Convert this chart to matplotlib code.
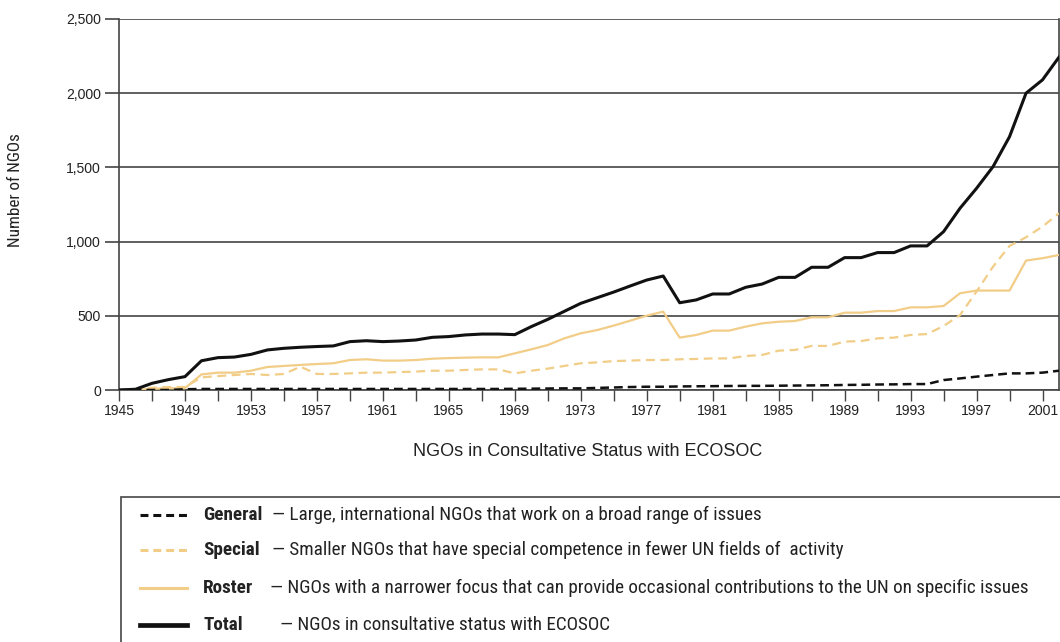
import os
import matplotlib
matplotlib.use("Agg")
import matplotlib.pyplot as plt
from matplotlib import font_manager as fm
from matplotlib.lines import Line2D
from matplotlib.patches import Rectangle

years = list(range(1945, 2003))

total = [0, 5, 45, 70, 90, 197, 218, 222, 240, 270, 281, 288, 293, 297, 326, 332,
         326, 330, 337, 355, 360, 371, 377, 377, 373, 427, 476, 530, 584, 622,
         660, 701, 741, 768, 588, 607, 647, 647, 692, 714, 759, 759, 827, 827,
         892, 892, 926, 926, 971, 971, 1067, 1225, 1359, 1505, 1707, 2000, 2090, 2243]

roster = [0, 0, 8, 12, 12, 105, 117, 117, 130, 155, 162, 169, 175, 180, 202, 207,
          198, 198, 202, 211, 215, 218, 220, 220, 247, 274, 303, 348, 382, 404,
          434, 467, 501, 528, 353, 371, 400, 400, 427, 449, 460, 465, 490, 490,
          521, 521, 532, 532, 557, 557, 566, 652, 670, 670, 670, 872, 888, 910]

special = [0, 0, 15, 20, 20, 85, 94, 101, 108, 101, 108, 157, 108, 108, 112, 117,
           117, 121, 124, 130, 130, 135, 139, 139, 112, 130, 144, 162, 180, 186,
           195, 198, 202, 202, 207, 209, 213, 213, 229, 236, 265, 270, 297, 297,
           326, 330, 348, 353, 371, 377, 431, 505, 663, 831, 971, 1029, 1101, 1191]

general = [0, 0, 0, 0, 5, 7, 7, 7, 7, 7, 7, 7, 7, 7, 7, 7,
           7, 7, 7, 7, 7, 7, 7, 7, 8, 9, 10, 11, 11, 14,
           17, 20, 22, 22, 24, 25, 26, 27, 28, 28, 29, 30, 31, 32,
           34, 35, 37, 38, 40, 40, 67, 78, 90, 101, 112, 112, 117, 130]

yticks = [0, 500, 1000, 1500, 2000, 2500]
ytick_labels = ["0", "500", "1,000", "1,500", "2,000", "2,500"]
xtick_major = list(range(1945, 2003, 4))
xtick_minor = list(range(1947, 2003, 4))

legend_names = ["General", "Special", "Roster", "Total"]
legend_desc = ["— Large, international NGOs that work on a broad range of issues",
               "— Smaller NGOs that have special competence in fewer UN fields of  activity",
               "— NGOs with a narrower focus that can provide occasional contributions to the UN on specific issues",
               "— NGOs in consultative status with ECOSOC"]

TAN = "#F1CD87"
TXT = "#222222"


def find_condensed():
    entries = fm.fontManager.ttflist
    names = {f.name for f in entries}
    for want in ["Liberation Sans Narrow", "Roboto Condensed", "Arial Narrow",
                 "Open Sans Condensed", "Noto Sans Condensed", "DejaVu Sans Condensed"]:
        if want in names:
            return dict(family=[want, "DejaVu Sans"])
    for f in entries:
        if ("Condensed" in f.name or "Narrow" in f.name) and "Mono" not in f.name \
                and "Serif" not in f.name and "CJK" not in f.name:
            return dict(family=[f.name, "DejaVu Sans"])
    for f in entries:
        fn = os.path.basename(f.fname)
        if "Condensed" in fn and f.name in ("DejaVu Sans", "Noto Sans", "Open Sans", "Roboto"):
            return dict(family=[f.name, "DejaVu Sans"], fontstretch="condensed")
    return dict(family=["Liberation Sans", "DejaVu Sans"])


COND = find_condensed()
plt.rcParams["font.family"] = ["Liberation Sans", "DejaVu Sans"]

W, H = 1060, 642
fig = plt.figure(figsize=(W / 100, H / 100), dpi=100)
ax = fig.add_axes([119 / W, 1 - 390 / H, (1059 - 119) / W, (390 - 19) / H])

ax.plot(years, roster, color=TAN, lw=1.6, zorder=3)
ax.plot(years, special, color=TAN, lw=1.6, dashes=(4, 2.5), zorder=3)
ax.plot(years, general, color="#111111", lw=1.8, dashes=(3.5, 2), zorder=4)
ax.plot(years, total, color="#111111", lw=2.2, zorder=5)

ax.set_xlim(1945, 2002)
ax.set_ylim(0, 2500)
ax.set_yticks(yticks)
ax.set_xticks(xtick_major)
ax.set_xticks(xtick_minor, minor=True)
ax.tick_params(axis="y", length=10, width=1.2, color="#444444", pad=3)
ax.tick_params(axis="x", which="both", length=8, width=1.0, color="#444444", pad=2)
ax.yaxis.grid(True, color="#444444", lw=1.2)
ax.set_axisbelow(True)
for s in ["top", "bottom", "left", "right"]:
    ax.spines[s].set_color("#444444")
    ax.spines[s].set_linewidth(1.2)
ax.spines["top"].set_visible(False)

renderer = fig.canvas.get_renderer()


def fit_size(text, target_px, base=10.0, **kw):
    t = fig.text(0, 0, text, fontsize=base, **kw)
    w = t.get_window_extent(renderer=renderer).width
    t.remove()
    return base * target_px / max(w, 1)


tick_size = fit_size("1945", 31)
ax.set_yticklabels(ytick_labels, fontsize=tick_size, color=TXT)
ax.set_xticklabels([str(y) for y in xtick_major], fontsize=tick_size, color=TXT)

ylab_size = min(fit_size("Number of NGOs", 114, **COND), 13)
fig.text(16 / W, 1 - 190 / H, "Number of NGOs", rotation=90, fontsize=ylab_size,
         color=TXT, ha="center", va="center", **COND)
xlab_size = fit_size("NGOs in Consultative Status with ECOSOC", 350)
fig.text(588 / W, 1 - 452 / H, "NGOs in Consultative Status with ECOSOC",
         fontsize=xlab_size, color=TXT, ha="center", va="center")

# legend box
fig.add_artist(Rectangle((121 / W, -0.05), 1.2, 1 - 497 / H + 0.05, transform=fig.transFigure,
                         facecolor="white", edgecolor="#555555", lw=1.3))
leg_size = fit_size(legend_desc[2], 757, **COND)
ys = [515, 550, 588, 625]
styles = [dict(color="#111111", lw=2.2, dashes=(2.6, 1.6)),
          dict(color=TAN, lw=2.2, dashes=(2.6, 1.6)),
          dict(color=TAN, lw=2.2),
          dict(color="#111111", lw=3.4)]
desc_x = [272, 272, 270, 280]
for i in range(4):
    y = 1 - ys[i] / H
    fig.add_artist(Line2D([140 / W, 187 / W], [y, y], transform=fig.transFigure, **styles[i]))
    fig.text(203 / W, y, legend_names[i], fontweight="bold",
             fontsize=leg_size, va="center", ha="left", color=TXT, **COND)
    fig.text(desc_x[i] / W, y, legend_desc[i],
             fontsize=leg_size, va="center", ha="left", color=TXT, **COND)

fig.savefig("out.png", dpi=100)
